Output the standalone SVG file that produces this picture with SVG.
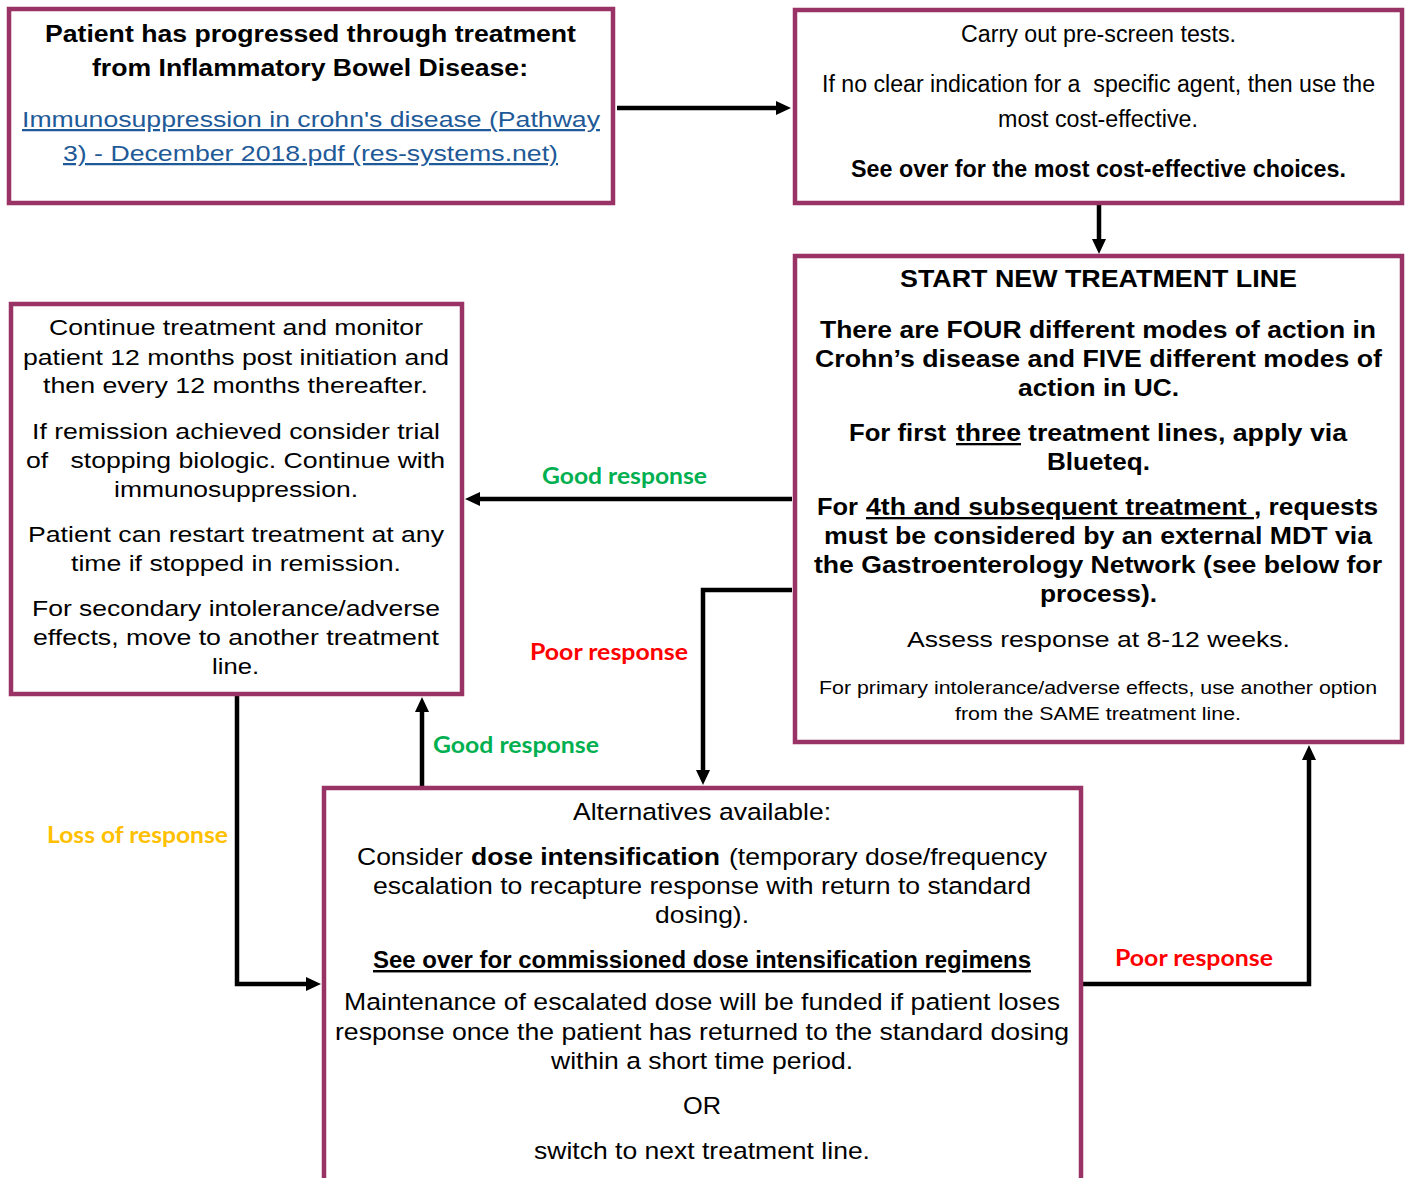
<svg xmlns="http://www.w3.org/2000/svg" width="1407" height="1178" viewBox="0 0 1407 1178">
<style>
.box{fill:#fff;stroke:#993366;stroke-width:4.5}
.t{font-family:"Liberation Sans",Arial,sans-serif;font-size:22px;fill:#000;text-anchor:middle;white-space:pre}
.b{font-weight:bold;font-size:23px}
.n2{font-size:23.5px}
.n5{font-size:24.5px}
.s{text-anchor:start}
.sm{font-size:17.5px}
.u{text-decoration:underline}
.lnk{fill:#1f5a98;text-decoration:underline;font-size:22.5px}
.lbl{font-family:Lato,"Open Sans",sans-serif;font-weight:bold;font-size:23px;text-anchor:middle}
.conn{fill:none;stroke:#000;stroke-width:4.5}
</style>
<defs>
<marker id="ah" markerUnits="userSpaceOnUse" markerWidth="15" markerHeight="14" refX="1" refY="7" orient="auto">
<path d="M0,0 L15,7 L0,14 Z" fill="#000"/>
</marker>
</defs>
<rect width="1407" height="1178" fill="#fff"/>

<g id="connectors">
<path class="conn" d="M617,108 H777" marker-end="url(#ah)"/>
<path class="conn" d="M1099,205 V240" marker-end="url(#ah)"/>
<path class="conn" d="M792,499 H479" marker-end="url(#ah)"/>
<path class="conn" d="M792,590 H703 V771" marker-end="url(#ah)"/>
<path class="conn" d="M422,786 V711" marker-end="url(#ah)"/>
<path class="conn" d="M237,696 V984 H307" marker-end="url(#ah)"/>
<path class="conn" d="M1083,984 H1309 V759" marker-end="url(#ah)"/>
<text class="lbl" x="624.5" y="484" fill="#00b050" textLength="165" lengthAdjust="spacingAndGlyphs">Good response</text>
<text class="lbl" x="609" y="660" fill="#ff0000" textLength="158" lengthAdjust="spacingAndGlyphs">Poor response</text>
<text class="lbl" x="516" y="753" fill="#00b050" textLength="166" lengthAdjust="spacingAndGlyphs">Good response</text>
<text class="lbl" x="137.5" y="843" fill="#ffc000" textLength="181" lengthAdjust="spacingAndGlyphs">Loss of response</text>
<text class="lbl" x="1194" y="966" fill="#ff0000" textLength="158" lengthAdjust="spacingAndGlyphs">Poor response</text>
</g>

<g id="node-start">
<rect class="box" x="9" y="9" width="604" height="194"/>
<text class="t b" x="310.5" y="42" textLength="531" lengthAdjust="spacingAndGlyphs">Patient has progressed through treatment</text>
<text class="t b" x="310" y="76" textLength="436" lengthAdjust="spacingAndGlyphs">from Inflammatory Bowel Disease:</text>
<text class="t lnk" x="311" y="127" textLength="578" lengthAdjust="spacingAndGlyphs">Immunosuppression in crohn's disease (Pathway</text>
<text class="t lnk" x="310.5" y="161" textLength="495" lengthAdjust="spacingAndGlyphs">3) - December 2018.pdf (res-systems.net)</text>
</g>

<g id="node-prescreen">
<rect class="box" x="795" y="10" width="607" height="193"/>
<text class="t n2" x="1098.5" y="42" textLength="275" lengthAdjust="spacingAndGlyphs">Carry out pre-screen tests.</text>
<text class="t n2" x="1098.5" y="92" textLength="553" lengthAdjust="spacingAndGlyphs">If no clear indication for a  specific agent, then use the</text>
<text class="t n2" x="1098" y="127" textLength="200" lengthAdjust="spacingAndGlyphs">most cost-effective.</text>
<text class="t b" x="1098.5" y="177" textLength="495" lengthAdjust="spacingAndGlyphs">See over for the most cost-effective choices.</text>
</g>

<g id="node-newline">
<rect class="box" x="795" y="256" width="607" height="486"/>
<text class="t b" x="1098.5" y="287" textLength="397" lengthAdjust="spacingAndGlyphs">START NEW TREATMENT LINE</text>
<text class="t b" x="1098" y="338" textLength="556" lengthAdjust="spacingAndGlyphs">There are FOUR different modes of action in</text>
<text class="t b" x="1098.5" y="367" textLength="567" lengthAdjust="spacingAndGlyphs">Crohn’s disease and FIVE different modes of</text>
<text class="t b" x="1098.5" y="396" textLength="161" lengthAdjust="spacingAndGlyphs">action in UC.</text>
<text class="t b s" x="849" y="441" textLength="97" lengthAdjust="spacingAndGlyphs">For first</text>
<text class="t b s u" x="956" y="441" textLength="65" lengthAdjust="spacingAndGlyphs">three</text>
<text class="t b s" x="1028" y="441" textLength="319" lengthAdjust="spacingAndGlyphs">treatment lines, apply via</text>
<text class="t b" x="1098.5" y="470" textLength="103" lengthAdjust="spacingAndGlyphs">Blueteq.</text>
<text class="t b s" x="817" y="515" textLength="41" lengthAdjust="spacingAndGlyphs">For</text>
<text class="t b s u" x="866" y="515" textLength="388" lengthAdjust="spacingAndGlyphs">4th and subsequent treatment </text>
<text class="t b s" x="1254" y="515" textLength="124" lengthAdjust="spacingAndGlyphs">, requests</text>
<text class="t b" x="1098" y="544" textLength="548" lengthAdjust="spacingAndGlyphs">must be considered by an external MDT via</text>
<text class="t b" x="1098" y="573" textLength="568" lengthAdjust="spacingAndGlyphs">the Gastroenterology Network (see below for</text>
<text class="t b" x="1098.5" y="602" textLength="117" lengthAdjust="spacingAndGlyphs">process).</text>
<text class="t" x="1098.5" y="647" textLength="383" lengthAdjust="spacingAndGlyphs">Assess response at 8-12 weeks.</text>
<text class="t sm" x="1098" y="694" textLength="558" lengthAdjust="spacingAndGlyphs">For primary intolerance/adverse effects, use another option</text>
<text class="t sm" x="1098" y="720" textLength="286" lengthAdjust="spacingAndGlyphs">from the SAME treatment line.</text>
</g>

<g id="node-continue">
<rect class="box" x="11" y="304" width="451" height="390"/>
<text class="t" x="236" y="335" textLength="374" lengthAdjust="spacingAndGlyphs">Continue treatment and monitor</text>
<text class="t" x="236" y="365" textLength="426" lengthAdjust="spacingAndGlyphs">patient 12 months post initiation and</text>
<text class="t" x="235.5" y="393" textLength="385" lengthAdjust="spacingAndGlyphs">then every 12 months thereafter.</text>
<text class="t" x="236" y="439" textLength="408" lengthAdjust="spacingAndGlyphs">If remission achieved consider trial</text>
<text class="t" x="235.5" y="468" textLength="419" lengthAdjust="spacingAndGlyphs">of   stopping biologic. Continue with</text>
<text class="t" x="236" y="497" textLength="244" lengthAdjust="spacingAndGlyphs">immunosuppression.</text>
<text class="t" x="236" y="542" textLength="416" lengthAdjust="spacingAndGlyphs">Patient can restart treatment at any</text>
<text class="t" x="236" y="571" textLength="330" lengthAdjust="spacingAndGlyphs">time if stopped in remission.</text>
<text class="t" x="236" y="616" textLength="408" lengthAdjust="spacingAndGlyphs">For secondary intolerance/adverse</text>
<text class="t" x="236" y="645" textLength="406" lengthAdjust="spacingAndGlyphs">effects, move to another treatment</text>
<text class="t" x="235.5" y="674" textLength="47" lengthAdjust="spacingAndGlyphs">line.</text>
</g>

<g id="node-alternatives">
<rect class="box" x="324" y="788" width="757" height="420"/>
<text class="t n5" x="702" y="820" textLength="258" lengthAdjust="spacingAndGlyphs">Alternatives available:</text>
<text class="t n5 s" x="357" y="865" textLength="106" lengthAdjust="spacingAndGlyphs">Consider</text>
<text class="t b n5 s" x="471" y="865" textLength="249" lengthAdjust="spacingAndGlyphs">dose intensification</text>
<text class="t n5 s" x="729" y="865" textLength="318" lengthAdjust="spacingAndGlyphs">(temporary dose/frequency</text>
<text class="t n5" x="702" y="894" textLength="658" lengthAdjust="spacingAndGlyphs">escalation to recapture response with return to standard</text>
<text class="t n5" x="702" y="923" textLength="94" lengthAdjust="spacingAndGlyphs">dosing).</text>
<text class="t b n5 u" x="702" y="968" textLength="658" lengthAdjust="spacingAndGlyphs">See over for commissioned dose intensification regimens</text>
<text class="t n5" x="702" y="1010" textLength="716" lengthAdjust="spacingAndGlyphs">Maintenance of escalated dose will be funded if patient loses</text>
<text class="t n5" x="702" y="1040" textLength="734" lengthAdjust="spacingAndGlyphs">response once the patient has returned to the standard dosing</text>
<text class="t n5" x="702" y="1069" textLength="302" lengthAdjust="spacingAndGlyphs">within a short time period.</text>
<text class="t n5" x="702" y="1114" textLength="38" lengthAdjust="spacingAndGlyphs">OR</text>
<text class="t n5" x="702" y="1159" textLength="336" lengthAdjust="spacingAndGlyphs">switch to next treatment line.</text>
</g>
</svg>
